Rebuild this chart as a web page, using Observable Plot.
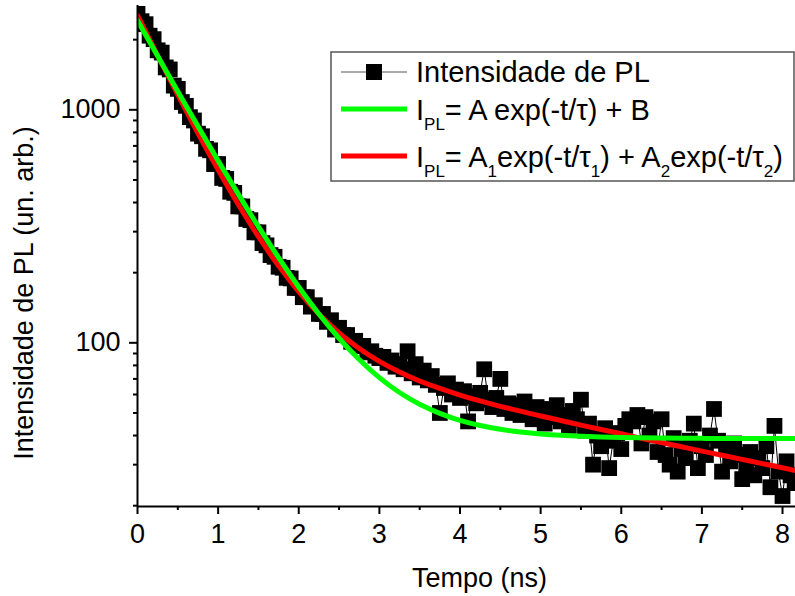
<!DOCTYPE html>
<html>
<head>
<meta charset="utf-8">
<script src="https://cdn.jsdelivr.net/npm/d3@7"></script>
<script src="https://cdn.jsdelivr.net/npm/@observablehq/plot@0.6"></script>
<style>
  html, body { margin: 0; padding: 0; background: #fff; }
  svg { display: block; }
</style>
</head>
<body>
<div id="chart"></div>
<script>
// ---- Measured data (time in ns, PL intensity in arb. units) ----
const times = [
  0,0.05,0.1,0.15,0.2,0.25,0.3,0.35,0.4,0.45,0.5,0.55,0.6,0.65,0.7,0.75,0.8,0.85,0.9,0.95,
  1,1.05,1.1,1.15,1.2,1.25,1.3,1.35,1.4,1.45,1.5,1.55,1.6,1.65,1.7,1.75,1.8,1.85,1.9,1.95,
  2,2.05,2.1,2.15,2.2,2.25,2.3,2.35,2.4,2.45,2.5,2.55,2.6,2.65,2.7,2.75,2.8,2.85,2.9,2.95,
  3,3.05,3.1,3.15,3.2,3.25,3.3,3.35,3.4,3.45,3.5,3.55,3.6,3.65,3.7,3.75,3.8,3.85,3.9,3.95,
  4,4.05,4.1,4.15,4.2,4.25,4.3,4.35,4.4,4.45,4.5,4.55,4.6,4.65,4.7,4.75,4.8,4.85,4.9,4.95,
  5,5.05,5.1,5.15,5.2,5.25,5.3,5.35,5.4,5.45,5.5,5.55,5.6,5.65,5.7,5.75,5.8,5.85,5.9,5.95,
  6,6.05,6.1,6.15,6.2,6.25,6.3,6.35,6.4,6.45,6.5,6.55,6.6,6.65,6.7,6.75,6.8,6.85,6.9,6.95,
  7,7.05,7.1,7.15,7.2,7.25,7.3,7.35,7.4,7.45,7.5,7.55,7.6,7.65,7.7,7.75,7.8,7.85,7.9,7.95,
  8,8.05,8.1,8.15
];
const intensity = [
  2580,2400,2330,2080,2010,1800,1760,1520,1490,1270,1230,1080,1040,930,900,790,770,680,670,585,
  585,510,505,445,440,385,385,340,336,298,298,268,262,238,234,212,210,190,189,172,
  172,157,157,143,145,133,133,123,125,114,116,108,108,101,102,97,97,91,92,88,
  86,87,82,84,79,81,77,92,74,81,71,76,69,72,66,50,64,67,60,63,
  58,62,46,59,55,61,77,57,53,58,70,52,55,50,54,49,56,51,47,53,
  50,45,52,48,54,46,49,44,51,47,57,42,45,30,40,36,43,29,38,41,
  35,44,47,46,49,37,48,40,46,34,47,33,30,39,28,35,32,38,45,29,
  36,33,40,52,38,28,35,31,37,33,26,30,34,27,32,29,36,24,44,28,
  22,31,27,25
];

// ---- Fit curves ----
const fitTimes = [0,0.25,0.5,0.75,1,1.25,1.5,1.75,2,2.25,2.5,2.75,3,3.25,3.5,3.75,4,4.25,4.5,4.75,
  5,5.25,5.5,5.75,6,6.25,6.5,6.75,7,7.25,7.5,7.75,8,8.16];
const monoFit = [2417,1700,1199,850,605,434.5,315,232,173.7,133,104.6,84.8,70.9,61.2,54.5,49.8,46.45,44.15,42.53,41.41,
  40.62,40.07,39.69,39.42,39.23,39.1,39.01,38.95,38.9,38.87,38.85,38.83,38.82,38.81];
const biFit = [2540,1708,1158,793.5,552.4,392.1,285.4,213.9,165.7,132.9,110.4,94.5,83.3,75.0,68.6,63.7,59.7,56.3,53.4,50.9,
  48.5,46.4,44.35,42.46,40.7,38.9,37.3,35.8,34.3,32.9,31.6,30.3,29.1,28.3];

// ---- Axis ticks ----
const xTicks = [0,1,2,3,4,5,6,7,8];
const xMinorTicks = [0.5,1.5,2.5,3.5,4.5,5.5,6.5,7.5];
const yTicks = [100,1000];
const yMinorTicks = [20,30,40,50,60,70,80,90,200,300,400,500,600,700,800,900,2000];

// ---- Text ----
const xLabel = "Tempo (ns)";
const yLabel = "Intensidade de PL (un. arb.)";
const legendData = "Intensidade de PL";

const FONT = "'Liberation Sans', Arial, Helvetica, sans-serif";
const Y_MIN = 19.84, Y_MAX = 2803, X_MAX = 8.161;

const data = times.map((t, i) => ({t, v: intensity[i]}));
const fits = fitTimes.map((t, i) => ({t, mono: monoFit[i], bi: biFit[i]}));

const plot = Plot.plot({
  width: 795,
  height: 596,
  marginLeft: 137,
  marginRight: 0,
  marginTop: 5,
  marginBottom: 90,
  style: {fontFamily: FONT, background: "white", color: "black", overflow: "visible"},
  x: {domain: [0, X_MAX], axis: null},
  y: {type: "log", domain: [Y_MIN, Y_MAX], axis: null},
  marks: [
    Plot.line(data, {x: "t", y: "v", stroke: "black", strokeWidth: 1, clip: true}),
    Plot.dot(data, {x: "t", y: "v", symbol: "square", r: 8.9, fill: "black", stroke: "none", clip: true}),
    Plot.line(fits, {x: "t", y: "bi", stroke: "#ff0000", strokeWidth: 5, curve: "natural", clip: true}),
    Plot.line(fits, {x: "t", y: "mono", stroke: "#00ff00", strokeWidth: 5, curve: "natural", clip: true}),
    Plot.axisX(xTicks, {tickSize: 8, tickPadding: 9, fontSize: 27, strokeWidth: 2, label: null, tickFormat: d => String(d)}),
    Plot.axisX(xMinorTicks, {tickSize: 4, strokeWidth: 2, label: null, tickFormat: () => ""}),
    Plot.axisY(yTicks, {tickSize: 8, tickPadding: 9, fontSize: 27, strokeWidth: 2, label: null, tickFormat: d => String(d)}),
    Plot.axisY(yMinorTicks, {tickSize: 4, strokeWidth: 2, label: null, tickFormat: () => ""}),
    Plot.ruleY([Y_MIN], {strokeWidth: 2}),
    Plot.ruleX([0], {strokeWidth: 2})
  ]
});

document.getElementById("chart").appendChild(plot);

// ---- Axis titles ----
const svg = d3.select(plot);
svg.append("text")
  .attr("x", 479.5).attr("y", 587)
  .attr("text-anchor", "middle")
  .attr("font-family", FONT).attr("font-size", 27).attr("fill", "black")
  .text(xLabel);
svg.append("text")
  .attr("transform", "translate(33,293) rotate(-90)")
  .attr("text-anchor", "middle")
  .attr("font-family", FONT).attr("font-size", 27).attr("fill", "black")
  .text(yLabel);

// ---- Legend ----
const lg = svg.append("g").attr("font-family", FONT).attr("fill", "black").attr("text-anchor", "start");
lg.append("rect").attr("x", 331).attr("y", 52).attr("width", 463).attr("height", 129)
  .attr("fill", "white").attr("stroke", "#555").attr("stroke-width", 1.5);
lg.append("line").attr("x1", 341).attr("x2", 407).attr("y1", 72).attr("y2", 72)
  .attr("stroke", "#555").attr("stroke-width", 1);
lg.append("rect").attr("x", 366).attr("y", 64).attr("width", 16).attr("height", 16).attr("fill", "black");
lg.append("line").attr("x1", 341).attr("x2", 407).attr("y1", 109).attr("y2", 109)
  .attr("stroke", "#00ff00").attr("stroke-width", 5);
lg.append("line").attr("x1", 341).attr("x2", 407).attr("y1", 156).attr("y2", 156)
  .attr("stroke", "#ff0000").attr("stroke-width", 5);

const LF = 29, SF = 17, SUB = 10;
lg.append("text").attr("x", 416).attr("y", 82).attr("font-size", LF).attr("text-anchor", "start").text(legendData);

function richText(y, parts) {
  const t = lg.append("text").attr("x", 416).attr("y", y).attr("font-size", LF).attr("text-anchor", "start");
  let shifted = false;
  parts.forEach(([s, sub]) => {
    const ts = t.append("tspan").text(s);
    if (sub && !shifted) { ts.attr("dy", SUB).attr("font-size", SF); shifted = true; }
    else if (sub) { ts.attr("font-size", SF); }
    else if (!sub && shifted) { ts.attr("dy", -SUB); shifted = false; }
  });
}
richText(120, [["I"], ["PL", true], ["= A exp(-t/τ) + B"]]);
richText(167, [["I"], ["PL", true], ["= A"], ["1", true], ["exp(-t/τ"], ["1", true], [") + A"], ["2", true], ["exp(-t/τ"], ["2", true], [")"]]);
</script>
</body>
</html>
